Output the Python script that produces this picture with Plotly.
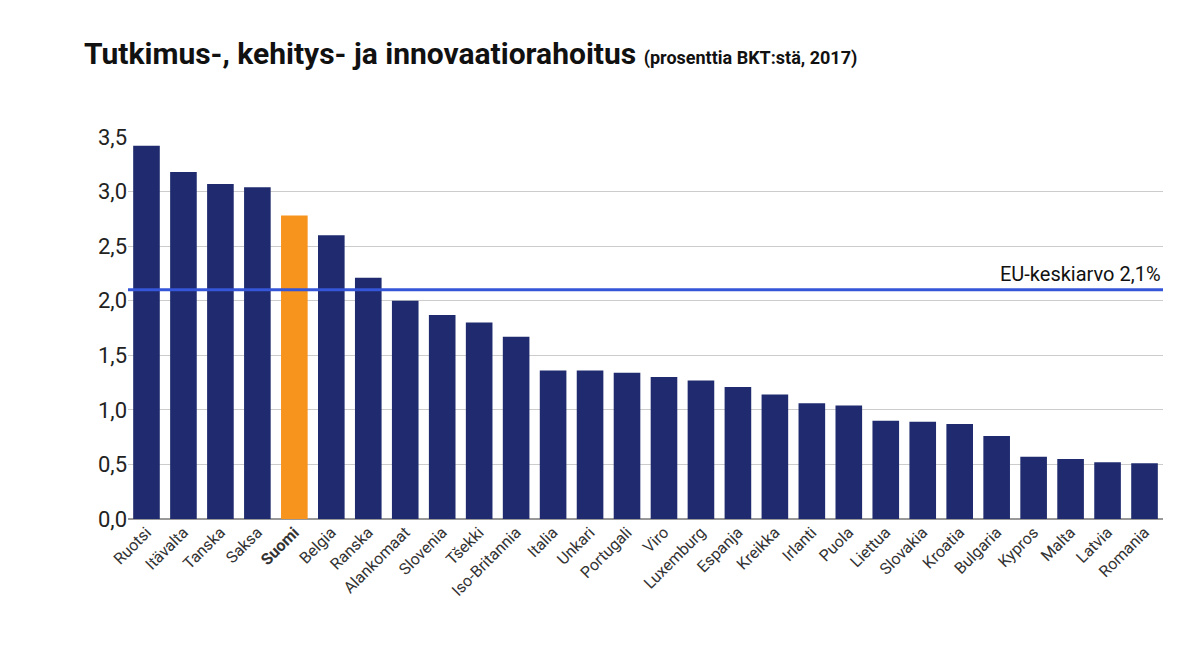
import plotly.graph_objects as go

countries = ["Ruotsi","Itävalta","Tanska","Saksa","Suomi","Belgia","Ranska","Alankomaat","Slovenia","Tšekki","Iso-Britannia","Italia","Unkari","Portugali","Viro","Luxemburg","Espanja","Kreikka","Irlanti","Puola","Liettua","Slovakia","Kroatia","Bulgaria","Kypros","Malta","Latvia","Romania"]
values = [3.42,3.18,3.07,3.04,2.78,2.60,2.21,2.00,1.87,1.80,1.67,1.36,1.36,1.34,1.30,1.27,1.21,1.14,1.06,1.04,0.90,0.89,0.87,0.76,0.57,0.55,0.52,0.51]
eu_avg = 2.1
yticks = [0,0.5,1.0,1.5,2.0,2.5,3.0,3.5]

colors = ["#f7941d" if c=="Suomi" else "#1f2b6e" for c in countries]
ticktext = ["<b>Suomi</b>" if c=="Suomi" else c for c in countries]

fig = go.Figure(go.Bar(x=countries, y=values, marker_color=colors, marker_line_width=0, width=0.72))
fig.add_hline(y=eu_avg, line_color="#3556d8", line_width=3)
fig.add_annotation(x=1, xref="paper", y=eu_avg, yref="y", text="EU-keskiarvo 2,1%", showarrow=False,
                   xanchor="right", yanchor="bottom", yshift=2, font=dict(size=20, color="#111"))
fig.add_annotation(x=-0.044, xref="paper", y=1, yref="paper", yshift=64,
                   text="<b>Tutkimus-, kehitys- ja innovaatiorahoitus</b> <span style='font-size:18px'><b>(prosenttia BKT:stä, 2017)</b></span>",
                   showarrow=False, font=dict(size=30, color="#111"), xanchor="left", yanchor="bottom")
fig.update_layout(
    width=1199, height=652, plot_bgcolor="white", paper_bgcolor="white",
    font=dict(family="Roboto", color="#222"),
    margin=dict(l=120, r=44, t=129, b=141),
    separators=", ", showlegend=False, bargap=0.28,
)
fig.update_yaxes(range=[0,3.5], tickvals=yticks, tickformat=".1f", showgrid=True, gridcolor="#cccccc",
                 tickfont=dict(size=22), zeroline=True, zerolinecolor="#999", ticks="", ticklen=0, automargin=False)
fig.update_xaxes(tickvals=countries, ticktext=ticktext, tickangle=-45, tickfont=dict(size=16, color="#333"),
                 showline=False, automargin=False)
fig.write_html("out.html")
